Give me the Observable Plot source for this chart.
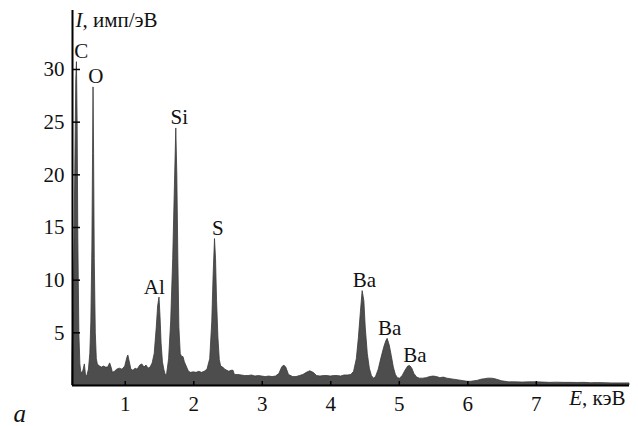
<!DOCTYPE html>
<html>
<head>
<meta charset="utf-8">
<script src="https://cdn.jsdelivr.net/npm/d3@7"></script>
<script src="https://cdn.jsdelivr.net/npm/@observablehq/plot@0.6"></script>
<style>
  html, body { margin: 0; padding: 0; background: #fff; }
  #chart svg { display: block; }
  #chart svg text { font-family: "Liberation Serif", "DejaVu Serif", serif !important; }
</style>
</head>
<body>
<div id="chart"></div>
<script>
// Spectrum: energy (keV) and intensity (imp/eV)
const energy = [0.23,0.25,0.27,0.285,0.295,0.305,0.315,0.33,0.345,0.36,0.39,0.41,0.43,0.45,0.47,0.49,0.505,0.52,0.53,0.537,0.545,0.555,0.57,0.585,0.60,0.63,0.66,0.69,0.72,0.75,0.78,0.80,0.82,0.85,0.88,0.92,0.96,1.00,1.03,1.045,1.06,1.09,1.12,1.15,1.18,1.22,1.25,1.28,1.31,1.34,1.37,1.40,1.43,1.46,1.48,1.50,1.515,1.53,1.55,1.57,1.59,1.61,1.64,1.67,1.70,1.725,1.745,1.76,1.775,1.79,1.81,1.83,1.85,1.87,1.89,1.91,1.93,1.96,2.00,2.04,2.08,2.12,2.16,2.20,2.24,2.27,2.29,2.31,2.325,2.34,2.36,2.38,2.40,2.43,2.46,2.49,2.52,2.55,2.58,2.60,2.65,2.70,2.75,2.80,2.85,2.90,2.95,3.00,3.05,3.10,3.15,3.20,3.25,3.29,3.32,3.35,3.39,3.45,3.50,3.55,3.60,3.65,3.70,3.75,3.80,3.85,3.90,3.95,4.00,4.05,4.10,4.15,4.20,4.25,4.30,4.34,4.38,4.41,4.44,4.465,4.49,4.51,4.54,4.57,4.60,4.63,4.66,4.70,4.74,4.78,4.81,4.83,4.86,4.89,4.92,4.95,4.98,5.01,5.05,5.09,5.13,5.16,5.19,5.22,5.26,5.30,5.35,5.40,5.45,5.50,5.55,5.60,5.65,5.70,5.75,5.80,5.85,5.90,5.95,6.00,6.05,6.10,6.15,6.20,6.25,6.30,6.35,6.40,6.45,6.50,6.55,6.60,6.70,6.80,6.90,7.00,7.10,7.20,7.30,7.40,7.50,7.60,7.70,7.80,7.90,8.00,8.10,8.20,8.30,8.36];
const intensity = [3,8,20,29,30.7,25,14,5,2,1.1,1.4,2.0,0.8,1.0,1.5,3,6,13,22,28.3,22,12,5,2.5,2.0,1.8,1.7,1.8,1.7,1.7,2.1,1.7,1.2,1.3,1.5,1.6,1.5,1.8,2.6,2.85,2.4,1.5,1.4,1.6,1.5,1.9,2.0,1.7,1.9,1.6,1.7,2.1,3.0,5.5,7.5,8.35,6.5,4.0,2.2,1.5,1.0,1.0,2.5,6,12,19,24.4,20,12,5.5,3,2.7,2.7,2.2,1.9,1.6,1.3,1.2,1.25,1.2,1.3,1.2,1.3,1.5,2.5,6,10.5,13.9,12,8,4.5,2.4,1.8,1.7,1.5,1.4,1.3,1.4,1.4,1.0,1.0,0.95,0.9,0.9,0.95,0.85,0.9,0.85,0.8,0.85,0.8,0.85,1.1,1.7,1.9,1.7,1.0,0.8,0.8,0.9,1.0,1.2,1.35,1.2,0.9,0.85,0.9,0.9,0.85,0.9,0.9,0.85,0.95,0.95,1.0,1.3,2.5,4.5,7,8.96,8,5.5,3,1.6,0.9,0.65,0.8,1.5,2.6,3.6,4.2,4.43,3.8,2.8,1.7,1.0,0.7,0.65,0.9,1.4,1.8,1.84,1.6,1.1,0.75,0.65,0.65,0.7,0.8,0.85,0.8,0.7,0.75,0.65,0.6,0.55,0.5,0.45,0.4,0.35,0.35,0.4,0.45,0.55,0.6,0.65,0.65,0.6,0.5,0.4,0.35,0.3,0.3,0.28,0.3,0.3,0.28,0.25,0.27,0.25,0.25,0.24,0.25,0.22,0.23,0.22,0.2,0.2,0.2,0.2];

// Peak labels
const peakLabels = ["C","O","Al","Si","S","Ba","Ba","Ba"];
const labelEnergy = [0.358,0.569,1.423,1.788,2.35,4.489,4.86,5.226];
const peakIntensity = [30.7,28.3,8.35,24.4,13.9,8.96,4.43,1.84];

// Ticks
const xTicks = [1,2,3,4,5,6,7];
const yTicks = [5,10,15,20,25,30];
const xDomain = [0.23, 8.36];
const yDomain = [0, 35.6];

const spectrum = energy.map((e, i) => ({e, v: intensity[i]}));
const labels = peakLabels.map((t, i) => ({t, e: labelEnergy[i], v: peakIntensity[i]}));

const FONT = '"Liberation Serif", "DejaVu Serif", serif';

const chart = Plot.plot({
  width: 638,
  height: 426,
  marginLeft: 72,
  marginRight: 9,
  marginTop: 10,
  marginBottom: 41,
  style: {fontFamily: FONT, fontSize: "21px", color: "#111", background: "#fff"},
  x: {domain: xDomain, ticks: xTicks},
  y: {domain: yDomain, ticks: yTicks},
  marks: [
    Plot.areaY(spectrum, {x: "e", y: "v", fill: "#4d4d4d", stroke: "#3a3a3a", strokeWidth: 0.8}),
    Plot.axisX(xTicks, {tickSize: 0, tickPadding: 11, fontSize: 21, fill: "#111", label: null}),
    Plot.axisY(yTicks, {tickSize: 0, tickPadding: 8, fontSize: 21, fill: "#111", label: null}),
    Plot.axisX(xTicks, {anchor: "top", frameAnchor: "bottom", tickSize: 5, text: null, label: null, stroke: "#000", strokeWidth: 1.5}),
    Plot.axisY(yTicks, {anchor: "right", frameAnchor: "left", tickSize: 7, text: null, label: null, stroke: "#000", strokeWidth: 1.5}),
    Plot.ruleY([0], {stroke: "#000", strokeWidth: 2}),
    Plot.ruleX([xDomain[0]], {stroke: "#000", strokeWidth: 2}),
    Plot.text(labels, {x: "e", y: "v", text: "t", textAnchor: "middle", lineAnchor: "bottom", dy: -4, fontSize: 21, fill: "#111"}),
    Plot.text(["I, имп/эВ"], {frameAnchor: "top-left", textAnchor: "start", lineAnchor: "top", dx: 3, dy: 2, fontSize: 21, fill: "#111"}),
    Plot.text(["E, кэВ"], {frameAnchor: "bottom-right", textAnchor: "end", lineAnchor: "top", dx: -4, dy: 5, fontSize: 21, fill: "#111"}),
    Plot.text(["a"], {frameAnchor: "bottom-left", textAnchor: "start", lineAnchor: "top", dx: -59, dy: 19, fontSize: 25, fontStyle: "italic", fill: "#111"})
  ]
});

// serif font everywhere, italic variable names in axis labels
d3.select(chart).selectAll("text").attr("font-family", FONT);
d3.select(chart).selectAll("text").each(function () {
  const t = this.textContent;
  if (t === "I, имп/эВ" || t === "E, кэВ") {
    const sel = d3.select(this);
    sel.text(null);
    sel.append("tspan").attr("font-style", "italic").text(t.slice(0, 1));
    sel.append("tspan").text(t.slice(1));
  }
});

document.getElementById("chart").appendChild(chart);
</script>
</body>
</html>
